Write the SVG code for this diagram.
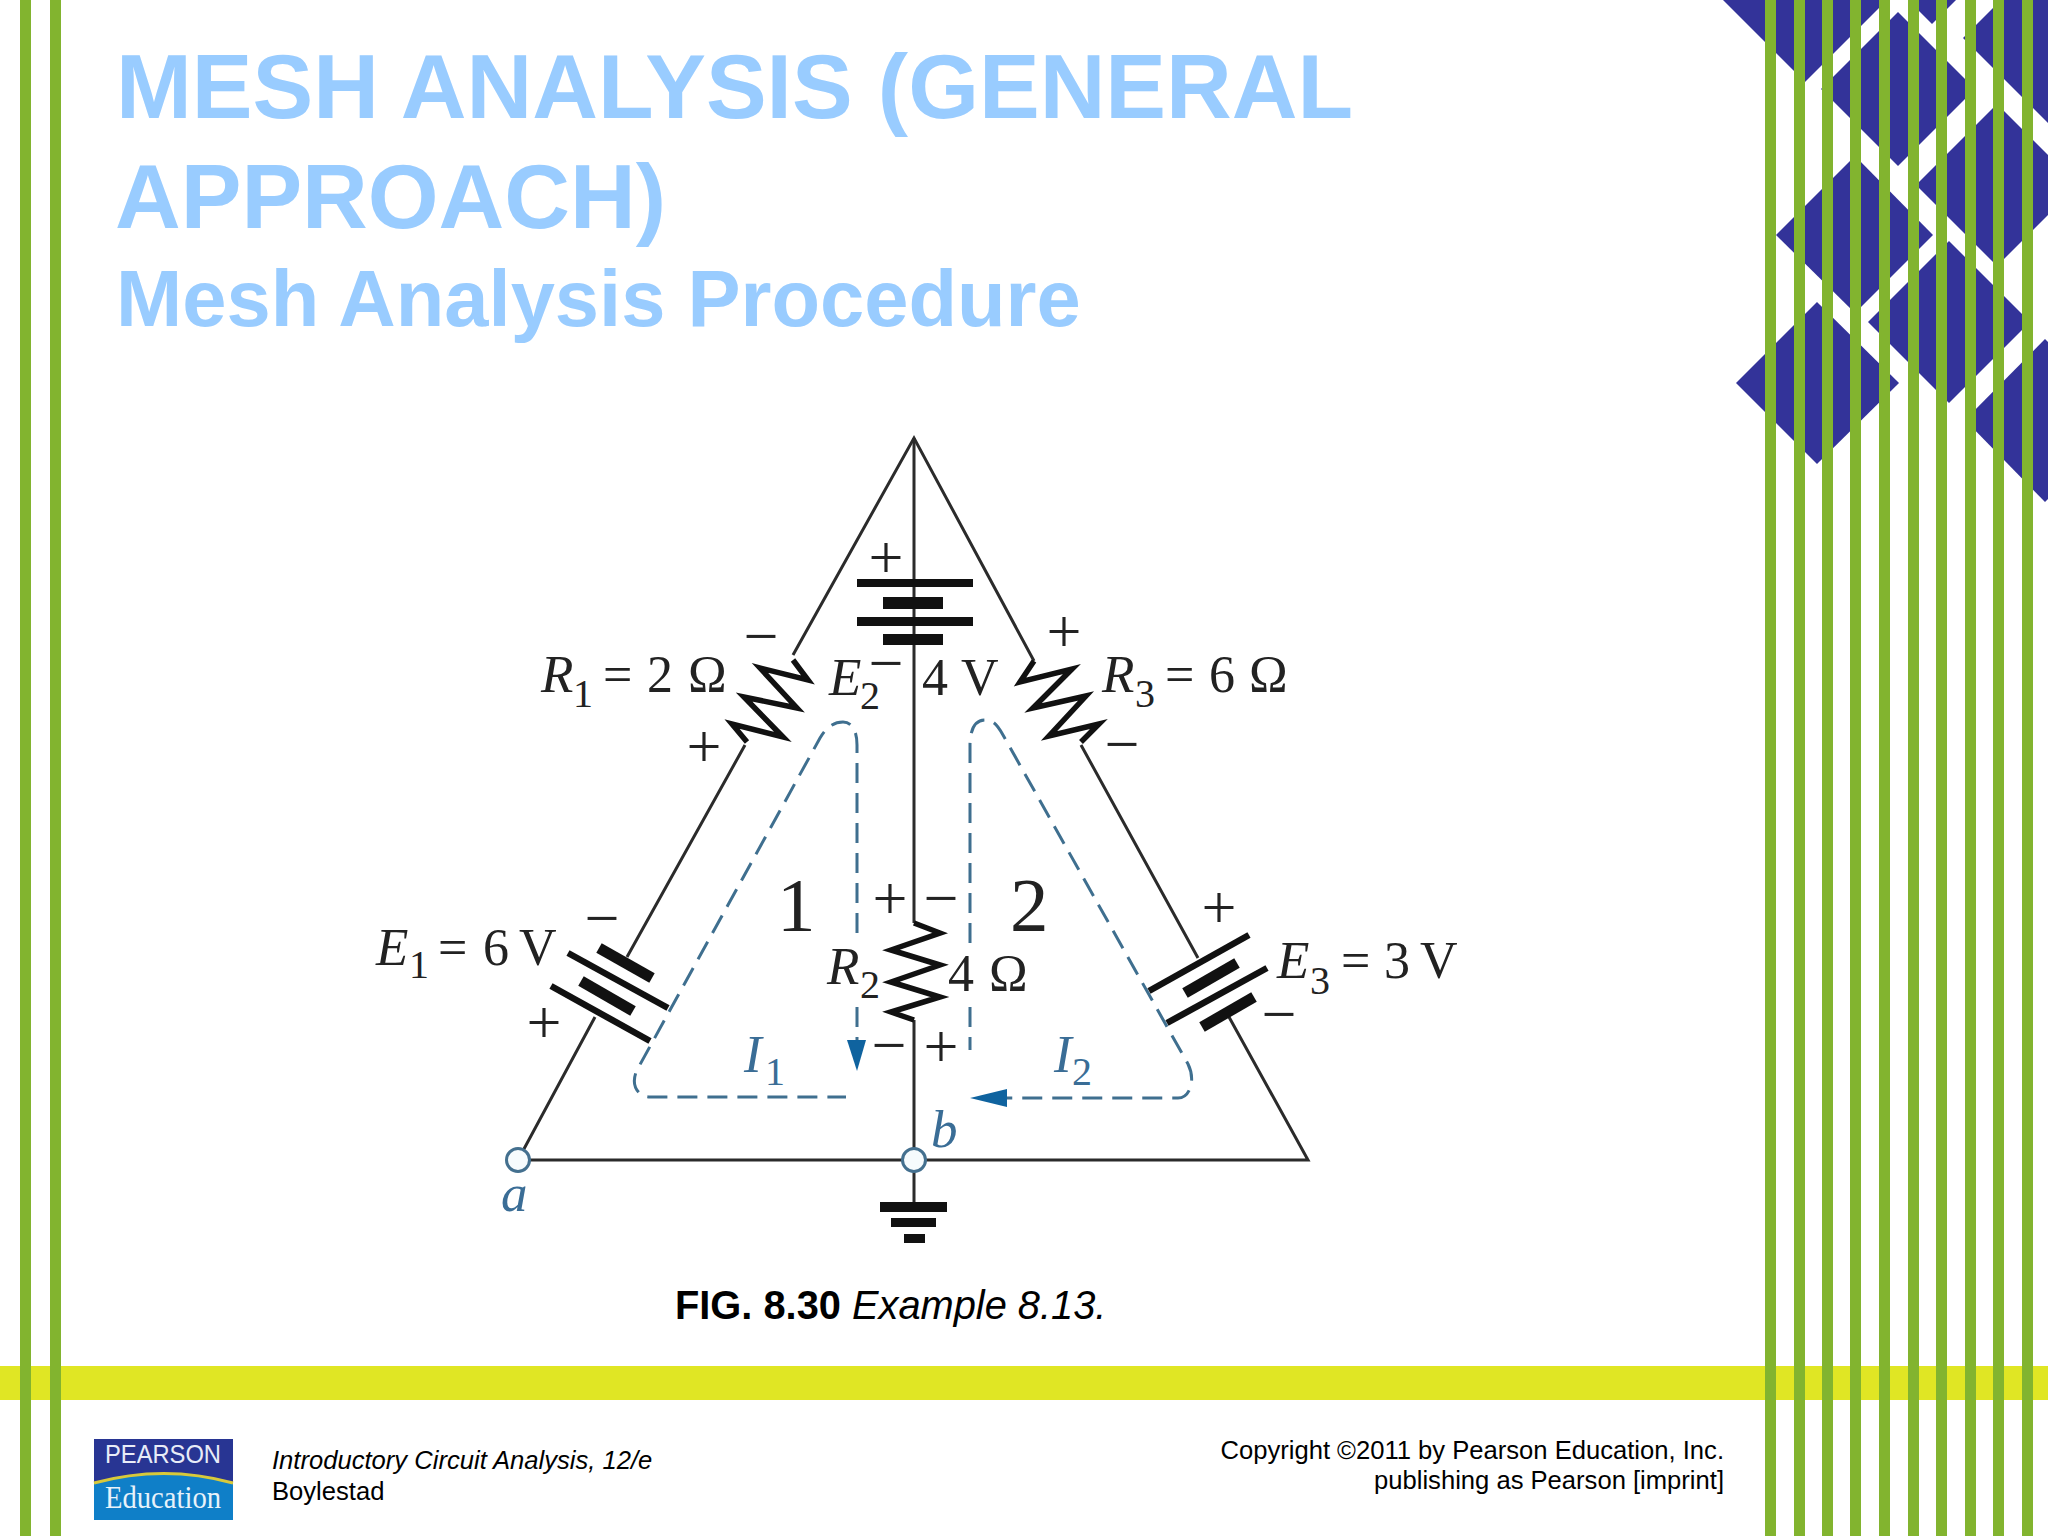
<svg xmlns="http://www.w3.org/2000/svg" width="2048" height="1536" viewBox="0 0 2048 1536">
<style>
.title{font:bold 91px "Liberation Sans",Arial,sans-serif;fill:#99ccff}
.sub{font:bold 79.500px "Liberation Sans",Arial,sans-serif;fill:#99ccff}
.cap{font:39.800px "Liberation Sans",Arial,sans-serif;fill:#000}
.foot{font:25.600px "Liberation Sans",Arial,sans-serif;fill:#000}
.v{font:italic 53px "Liberation Serif","Times New Roman",serif;fill:#222}
.n{font:52px "Liberation Serif","Times New Roman",serif;fill:#222}
.s{font:40px "Liberation Serif","Times New Roman",serif;fill:#222}
.pm{font:62px "Liberation Serif","Times New Roman",serif;fill:#222;text-anchor:middle}
.big{font:77px "Liberation Serif","Times New Roman",serif;fill:#222}
.blue{fill:#3a6d96}
.wire{fill:none;stroke:#2b2b2b;stroke-width:3}
.zig{fill:none;stroke:#111;stroke-width:5.500;stroke-linejoin:miter}
.thin{stroke:#111;stroke-width:6.500}
.thick{stroke:#111;stroke-width:11}
.plate{fill:#111}
.mesh{fill:none;stroke:#3f6f8f;stroke-width:3;stroke-dasharray:20 10}
.arrow{fill:#0f639f}
.node{fill:#f6fbfd;stroke:#44708f;stroke-width:3}
.dia{fill:#333399}
.st{fill:#82b42f}
</style>
<rect width="2048" height="1536" fill="#fff"/>
<g id="pattern">
<polygon class="dia" points="1723,0 1805,82 1887,0"/>
<polygon class="dia" points="1898,12 1975,89 1898,166 1821,89"/>
<polygon class="dia" points="1908,0 1956,0 1932,24"/>
<polygon class="dia" points="1963,38 2001,0 2048,0 2048,123"/>
<polygon class="dia" points="1997,104 2078,185 1997,266 1916,185"/>
<polygon class="dia" points="1855,156 1933,235 1855,313 1776,235"/>
<polygon class="dia" points="1949,241 2030,322 1949,403 1868,322"/>
<polygon class="dia" points="1817,302 1899,383 1817,464 1736,383"/>
<polygon class="dia" points="2045,339 2126,420 2045,502 1965,420"/>
</g>
<rect id="bar" x="0" y="1366" width="2048" height="34" fill="#e0e624"/>
<g id="stripes">
<rect class="st" x="20" y="0" width="11" height="1536"/>
<rect class="st" x="50" y="0" width="11" height="1536"/>
<rect class="st" x="1765" y="0" width="11" height="1536"/>
<rect class="st" x="1794" y="0" width="11" height="1536"/>
<rect class="st" x="1822" y="0" width="11" height="1536"/>
<rect class="st" x="1850" y="0" width="11" height="1536"/>
<rect class="st" x="1879" y="0" width="11" height="1536"/>
<rect class="st" x="1908" y="0" width="11" height="1536"/>
<rect class="st" x="1936" y="0" width="11" height="1536"/>
<rect class="st" x="1965" y="0" width="11" height="1536"/>
<rect class="st" x="1993" y="0" width="11" height="1536"/>
<rect class="st" x="2022" y="0" width="11" height="1536"/>
</g>
<g id="heading">
<text class="title" x="116" y="118">MESH ANALYSIS (GENERAL</text>
<text class="title" x="115" y="228">APPROACH)</text>
<text class="sub" x="116" y="326">Mesh Analysis Procedure</text>
</g>
<g id="connectors">
<path class="wire" d="M793,655 L914,438 L1034,661"/>
<path class="wire" d="M914,438 V923 M914,1020 V1160 M914,1172 V1202"/>
<path class="wire" d="M745,745 L627,957 M595,1017 L518,1160 H1308 L1229,1017 M1198,958 L1081,745"/>
<path class="mesh" d="M857,933 V745 C857,728 850,722 843,722 C833,722 826,728 820,738 L637,1070 C631,1082 636,1097 650,1097 H846"/>
<path class="mesh" d="M857,1007 V1042"/>
<path class="mesh" d="M970,943 V745 C970,728 976,720 985,720 C994,720 998,726 1003,735 L1188,1064 C1196,1080 1190,1098 1178,1098 H1006"/>
<path class="mesh" d="M970,1007 V1050"/>
<polygon class="arrow" points="847,1040 866,1040 857,1071"/>
<polygon class="arrow" points="970,1098 1007,1089 1007,1107"/>
</g>
<g id="R1">
<polyline class="zig" points="793,660 808,680 760,668 797,708 744,697 783,737 732,724 747,742"/>
<text class="v" x="541" y="692">R</text><text class="s" x="573" y="707">1</text><text class="n" x="603" y="692">=</text><text class="n" x="647" y="692">2</text><text class="n" x="688" y="692">Ω</text>
<text class="pm" x="761" y="657">−</text><text class="pm" x="704" y="767">+</text>
</g>
<g id="R2">
<polyline class="zig" points="914,923 940,933 891,950 940,965 891,982 940,997 891,1012 914,1020"/>
<text class="v" x="827" y="984">R</text><text class="s" x="860" y="998">2</text><text class="n" x="948" y="991">4</text><text class="n" x="989" y="991">Ω</text>
<text class="pm" x="890" y="919">+</text><text class="pm" x="941" y="919">−</text><text class="pm" x="889" y="1066">−</text><text class="pm" x="941" y="1067">+</text>
</g>
<g id="R3">
<polyline class="zig" points="1034,661 1020,682 1072,669 1033,708 1086,696 1049,736 1099,724 1081,742"/>
<text class="v" x="1102" y="692">R</text><text class="s" x="1135" y="707">3</text><text class="n" x="1165" y="692">=</text><text class="n" x="1209" y="692">6</text><text class="n" x="1249" y="692">Ω</text>
<text class="pm" x="1064" y="652">+</text><text class="pm" x="1122" y="765">−</text>
</g>
<g id="E1">
<line class="thick" x1="599" y1="948" x2="652" y2="978"/><line class="thin" x1="568" y1="953" x2="668" y2="1008"/><line class="thick" x1="581" y1="981" x2="633" y2="1011"/><line class="thin" x1="551" y1="986" x2="650" y2="1041"/>
<text class="v" x="376" y="965">E</text><text class="s" x="409" y="978">1</text><text class="n" x="438" y="965">=</text><text class="n" x="483" y="965">6</text><text class="n" x="519" y="965">V</text>
<text class="pm" x="602" y="939">−</text><text class="pm" x="544" y="1043">+</text>
</g>
<g id="E2">
<rect class="plate" x="857" y="579" width="116" height="8"/><rect class="plate" x="883" y="597" width="60" height="12"/><rect class="plate" x="857" y="617" width="116" height="9"/><rect class="plate" x="883" y="634" width="60" height="11"/>
<text class="v" x="829" y="695">E</text><text class="s" x="860" y="709">2</text><text class="n" x="922" y="695">4</text><text class="n" x="961" y="695">V</text>
<text class="pm" x="886" y="578">+</text><text class="pm" x="886" y="684">−</text>
</g>
<g id="E3">
<line class="thin" x1="1149" y1="991" x2="1249" y2="935"/><line class="thick" x1="1185" y1="993" x2="1237" y2="963"/><line class="thin" x1="1167" y1="1023" x2="1267" y2="968"/><line class="thick" x1="1202" y1="1027" x2="1254" y2="997"/>
<text class="v" x="1277" y="978">E</text><text class="s" x="1310" y="994">3</text><text class="n" x="1341" y="978">=</text><text class="n" x="1384" y="978">3</text><text class="n" x="1420" y="978">V</text>
<text class="pm" x="1219" y="928">+</text><text class="pm" x="1279" y="1035">−</text>
</g>
<g id="mesh1"><text class="big" x="777" y="931">1</text><text class="v blue" x="744" y="1072">I</text><text class="s blue" x="765" y="1085">1</text></g>
<g id="mesh2"><text class="big" x="1010" y="931">2</text><text class="v blue" x="1054" y="1072">I</text><text class="s blue" x="1072" y="1085">2</text></g>
<g id="a"><circle class="node" cx="518" cy="1160" r="11.500"/><text class="v blue" x="501" y="1211">a</text></g>
<g id="b"><circle class="node" cx="914" cy="1160" r="11.500"/><text class="v blue" x="931" y="1147">b</text></g>
<g id="ground">
<rect class="plate" x="880" y="1202" width="67" height="10"/><rect class="plate" x="891" y="1218" width="45" height="9"/><rect class="plate" x="904" y="1234" width="21" height="9"/>
</g>
<text id="caption" class="cap" x="675" y="1319"><tspan font-weight="bold">FIG. 8.30</tspan> <tspan font-style="italic">Example 8.13.</tspan></text>
<g id="logo">
<rect x="94" y="1439" width="139" height="81" fill="#0f7fc8"/>
<path d="M94,1439 H233 V1483 Q164,1464 94,1483 Z" fill="#283593"/>
<path d="M94,1483 Q164,1464 233,1483" fill="none" stroke="#d8c93a" stroke-width="3"/>
<text x="105" y="1463" textLength="116" lengthAdjust="spacingAndGlyphs" font-family="'Liberation Sans',Arial,sans-serif" font-size="25" fill="#e8ecf8">PEARSON</text>
<text x="105" y="1508" textLength="116" lengthAdjust="spacingAndGlyphs" font-family="'Liberation Serif','Times New Roman',serif" font-size="32" fill="#e8f2fa">Education</text>
</g>
<g id="footer">
<text class="foot" x="272" y="1469" style="font-style:italic">Introductory Circuit Analysis, 12/e</text>
<text class="foot" x="272" y="1500">Boylestad</text>
<text class="foot" x="1724" y="1459" text-anchor="end">Copyright ©2011 by Pearson Education, Inc.</text>
<text class="foot" x="1724" y="1489" text-anchor="end">publishing as Pearson [imprint]</text>
</g>
</svg>
